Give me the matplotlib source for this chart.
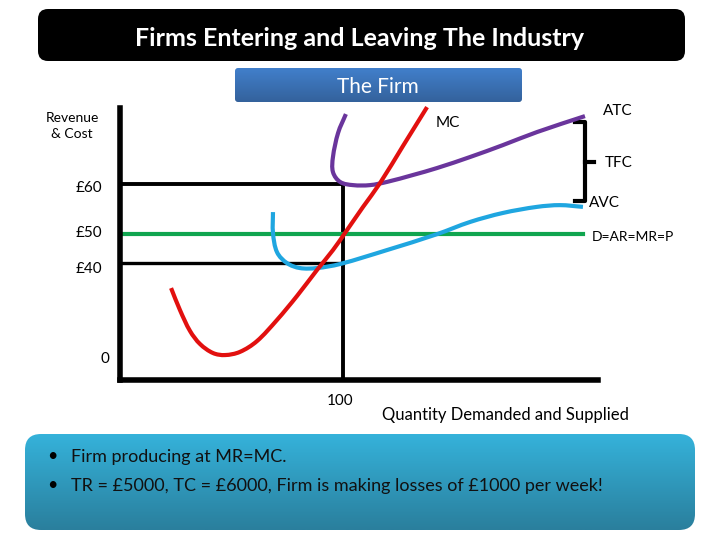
import matplotlib

matplotlib.use("Agg")
import matplotlib.pyplot as plt
import numpy as np
from matplotlib.patches import FancyBboxPatch, PathPatch
from matplotlib.path import Path

plt.rcParams["font.family"] = ["Lato", "DejaVu Sans"]

# curves, quantity then cost in axis units
mc_q = [22.9, 26.9, 31.4, 35.9, 41.7, 47.1, 53.8, 61.4, 70.4, 79.4, 88.3, 95.5, 100.9, 109, 116.6, 126.9, 137.7]
mc_c = [31.7, 24.1, 16.9, 12.4, 9.3, 8.6, 9.7, 13.4, 20.7, 29, 37.9, 44.8, 50.7, 59.7, 67.9, 80.7, 94.1]
atc_q = [101.3, 97.8, 95.5, 95.5, 98.7, 104.5, 112.1, 119.7, 131.4, 142.2, 157, 171.7, 187, 208.5]
atc_c = [91.7, 85.2, 76.9, 71.7, 68.3, 67.2, 67.2, 68.3, 70.7, 73.1, 76.9, 81, 85.5, 91]
avc_q = [68.6, 68.6, 70.4, 74.9, 80.7, 88.3, 98.7, 119.7, 142.2, 157, 171.7, 187, 197.3, 207.6]
avc_c = [57.9, 50.7, 44.1, 40.3, 38.6, 38.6, 40, 44.8, 50.3, 54.5, 57.6, 59.7, 60.3, 59.7]
price_q = [0, 207.6]
price_c = [50.3, 50.3]
output_q = 100
high_cost = 67.6
low_cost = 40.3

cost_labels = ["£60", "£50", "£40", "0"]
output_label = "100"
bullets = ["Firm producing at MR=MC.", "TR = £5000, TC = £6000, Firm is making losses of £1000 per week!"]


def smooth_patch(xs, ys, color):
    # bezier segments through the read points, handle length follows the segment
    pts = np.column_stack([xs, ys])
    verts = [pts[0]]
    codes = [Path.MOVETO]
    tangents = []
    for i in range(len(pts)):
        d = pts[min(i + 1, len(pts) - 1)] - pts[max(i - 1, 0)]
        tangents.append(d / np.hypot(*d))
    for i in range(len(pts) - 1):
        seg = np.hypot(*(pts[i + 1] - pts[i])) / 3
        verts += [pts[i] + tangents[i] * seg, pts[i + 1] - tangents[i + 1] * seg, pts[i + 1]]
        codes += [Path.CURVE4] * 3
    return PathPatch(Path(verts, codes), fill=False, edgecolor=color, lw=3.0, capstyle="butt", clip_on=False, zorder=3)


def gradient_box(ax, x0, y0, x1, y1, top, bottom, radius):
    box = FancyBboxPatch((x0 + radius, y0 + radius), x1 - x0 - 2 * radius, y1 - y0 - 2 * radius,
                         boxstyle=f"round,pad={radius},rounding_size={radius}", fc="none", ec="none")
    ax.add_patch(box)
    grad = np.linspace(0, 1, 64)[:, None, None]
    rgb = (1 - grad) * np.array(matplotlib.colors.to_rgb(top)) + grad * np.array(matplotlib.colors.to_rgb(bottom))
    im = ax.imshow(rgb, extent=(x0, x1, y1, y0), aspect="auto", zorder=1)
    im.set_clip_path(box)


fig = plt.figure(figsize=(7.2, 5.4), dpi=100)

# page layer in pixel coordinates for the boxes and labels
page = fig.add_axes([0, 0, 1, 1])
page.set_xlim(0, 720)
page.set_ylim(540, 0)
page.axis("off")

page.add_patch(FancyBboxPatch((48, 19), 627, 32, boxstyle="round,pad=10,rounding_size=10", fc="black", ec="none"))
gradient_box(page, 235, 68, 522, 102, "#417fcb", "#34629c", 3)
gradient_box(page, 25, 434, 695, 530, "#35b2da", "#2a7f9d", 16)
page.set_xlim(0, 720)
page.set_ylim(540, 0)

page.text(360, 39, "Firms Entering and Leaving The Industry", color="white", fontsize=18, ha="center", va="center", weight="bold", zorder=4)
page.text(378, 87, "The Firm", color="white", fontsize=15, ha="center", va="center", zorder=4)

page.text(72, 126, "Revenue\n& Cost", fontsize=10, ha="center", va="center", linespacing=1.45)
page.text(448, 123, "MC", fontsize=11, ha="center", va="center")
page.text(618, 111, "ATC", fontsize=11, ha="center", va="center")
page.text(619, 163, "TFC", fontsize=11, ha="center", va="center")
page.text(604, 203, "AVC", fontsize=11, ha="center", va="center")
page.text(633, 237, "D=AR=MR=P", fontsize=10, ha="center", va="center")
for label, x, y in zip(cost_labels, [89, 89, 89, 105], [188, 233, 269, 359]):
    page.text(x, y, label, fontsize=11, ha="center", va="center")
page.text(340, 401, output_label, fontsize=11, ha="center", va="center")
page.text(505, 415, "Quantity Demanded and Supplied", fontsize=12, ha="center", va="center")

for y, text in zip([456, 485], bullets):
    page.text(47, y, "•", fontsize=13, ha="left", va="center", zorder=4)
    page.text(71, y + 1, text, fontsize=13, ha="left", va="center", color="#111111", zorder=4)

# tfc bracket
page.plot([575, 585, 585, 575], [122, 122, 201, 201], color="black", lw=3, solid_joinstyle="round", zorder=2)
page.plot([585, 594], [162, 162], color="black", lw=3, zorder=2)

# the chart itself, origin at the axis corner
ax = fig.add_axes([120 / 720, 1 - 380 / 540, 478 / 720, 272 / 540], facecolor="none")
ax.set_xlim(0, 478 / 2.23)
ax.set_ylim(0, 272 / 2.9)
ax.set_xticks([])
ax.set_yticks([])
for side in ["top", "right"]:
    ax.spines[side].set_visible(False)
for side in ["left", "bottom"]:
    ax.spines[side].set_linewidth(4)

ax.plot([0, output_q, output_q], [high_cost, high_cost, 0], color="black", lw=2.8, solid_joinstyle="miter", zorder=1)
ax.plot([0, output_q], [low_cost, low_cost], color="black", lw=2.4, zorder=1)
ax.plot(price_q, price_c, color="#10a54f", lw=3.0, zorder=2)
ax.add_patch(smooth_patch(atc_q, atc_c, "#6a359c"))
ax.add_patch(smooth_patch(avc_q, avc_c, "#1fa6e0"))
ax.add_patch(smooth_patch(mc_q, mc_c, "#e2100f"))

fig.savefig("out.png", dpi=100)
